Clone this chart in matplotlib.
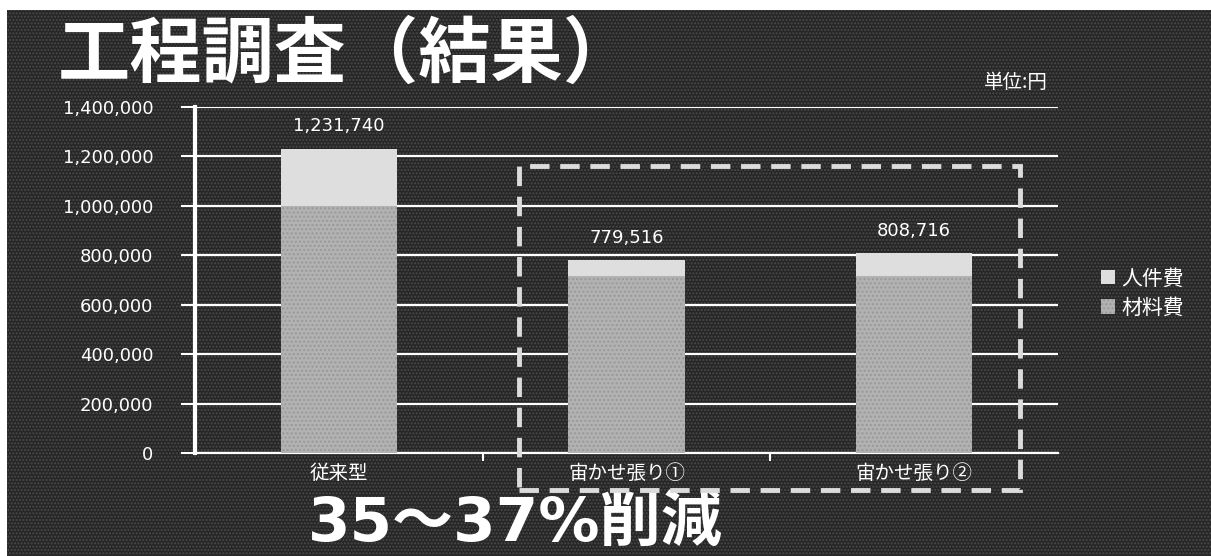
import matplotlib.pyplot as plt
from matplotlib.patches import Rectangle

# Data
categories = ['従来型', '宙かせ張り①', '宙かせ張り②']
material = [1000000, 715000, 715000]   # 材料費
labor = [231740, 64516, 93716]         # 人件費
totals = ['1,231,740', '779,516', '808,716']
yticks = [0, 200000, 400000, 600000, 800000, 1000000, 1200000, 1400000]

plt.rcParams['font.family'] = ['Noto Sans CJK JP', 'DejaVu Sans']
plt.rcParams['hatch.linewidth'] = 1.0

fig = plt.figure(figsize=(12.11, 5.56), dpi=100)
fig.patch.set_facecolor('white')

# dark textured backdrop
bg = Rectangle((7/1211, 0), 1 - 7/1211, 1 - 10/556, transform=fig.transFigure,
               facecolor='#262626', edgecolor='#4a4a4a', hatch='.....', linewidth=0, zorder=-5)
fig.patches.append(bg)

ax = fig.add_axes([195/1211, 103/556, 863/1211, 346/556])
ax.set_facecolor('none')
ax.set_zorder(1)

x = range(len(categories))
ax.bar(x, material, width=0.405, color='#b2b2b2', edgecolor='#999999', hatch='....',
       linewidth=0, zorder=3, label='材料費')
ax.bar(x, labor, bottom=material, width=0.405, color='#dedede', linewidth=0,
       zorder=3, label='人件費')

for i, t in enumerate(totals):
    top = material[i] + labor[i]
    ax.text(i, top + 55000, t, ha='center', va='bottom', color='white',
            fontsize=13, family='DejaVu Sans')

ax.set_xlim(-0.5, 2.5)
ax.set_ylim(0, 1400000)
ax.set_yticks(yticks)
ax.set_yticklabels([f'{v:,}' for v in yticks], family='DejaVu Sans', fontsize=13)
ax.set_xticks(list(x))
ax.set_xticklabels(categories, fontsize=14)
ax.set_xticks([0.5, 1.5], minor=True)
ax.tick_params(axis='y', colors='white', length=10, width=1.5, pad=20)
ax.tick_params(axis='x', which='major', colors='white', length=0, pad=7)
ax.tick_params(axis='x', which='minor', colors='white', length=6, width=1.5)
ax.grid(axis='y', color='white', linewidth=1.6, zorder=1)

for s in ['top', 'right']:
    ax.spines[s].set_visible(False)
ax.spines['left'].set_color('white')
ax.spines['left'].set_linewidth(3)
ax.spines['bottom'].set_color('white')
ax.spines['bottom'].set_linewidth(1.6)

# legend
h, l = ax.get_legend_handles_labels()
leg = fig.legend(h[::-1], l[::-1], loc='center left', bbox_to_anchor=(1082/1211, 1 - 293/556),
                 frameon=False, fontsize=15, handlelength=0.7, handleheight=0.7,
                 handletextpad=0.3, labelspacing=0.35, labelcolor='white')

# dashed box around the new methods
box = Rectangle((519/1211, 66/556), 501/1211, 324/556, transform=fig.transFigure,
                fill=False, edgecolor='#dcdcdc', linewidth=3.5, linestyle=(0, (4, 2.2)),
                zorder=5)
fig.patches.append(box)

fig.text(58/1211, 1 - 56/556, '工程調査（結果）', color='white', fontsize=52,
         fontweight='bold', va='center', ha='left')
fig.text(1048/1211, 1 - 83/556, '単位:円', color='white', fontsize=14,
         va='center', ha='right')
fig.text(308/1211, 1 - 524/556, '35～37%削減', color='white', fontsize=44,
         fontweight='bold', va='center', ha='left',
         family=['DejaVu Sans', 'Noto Sans CJK JP'])

fig.savefig('out.png', dpi=100)
